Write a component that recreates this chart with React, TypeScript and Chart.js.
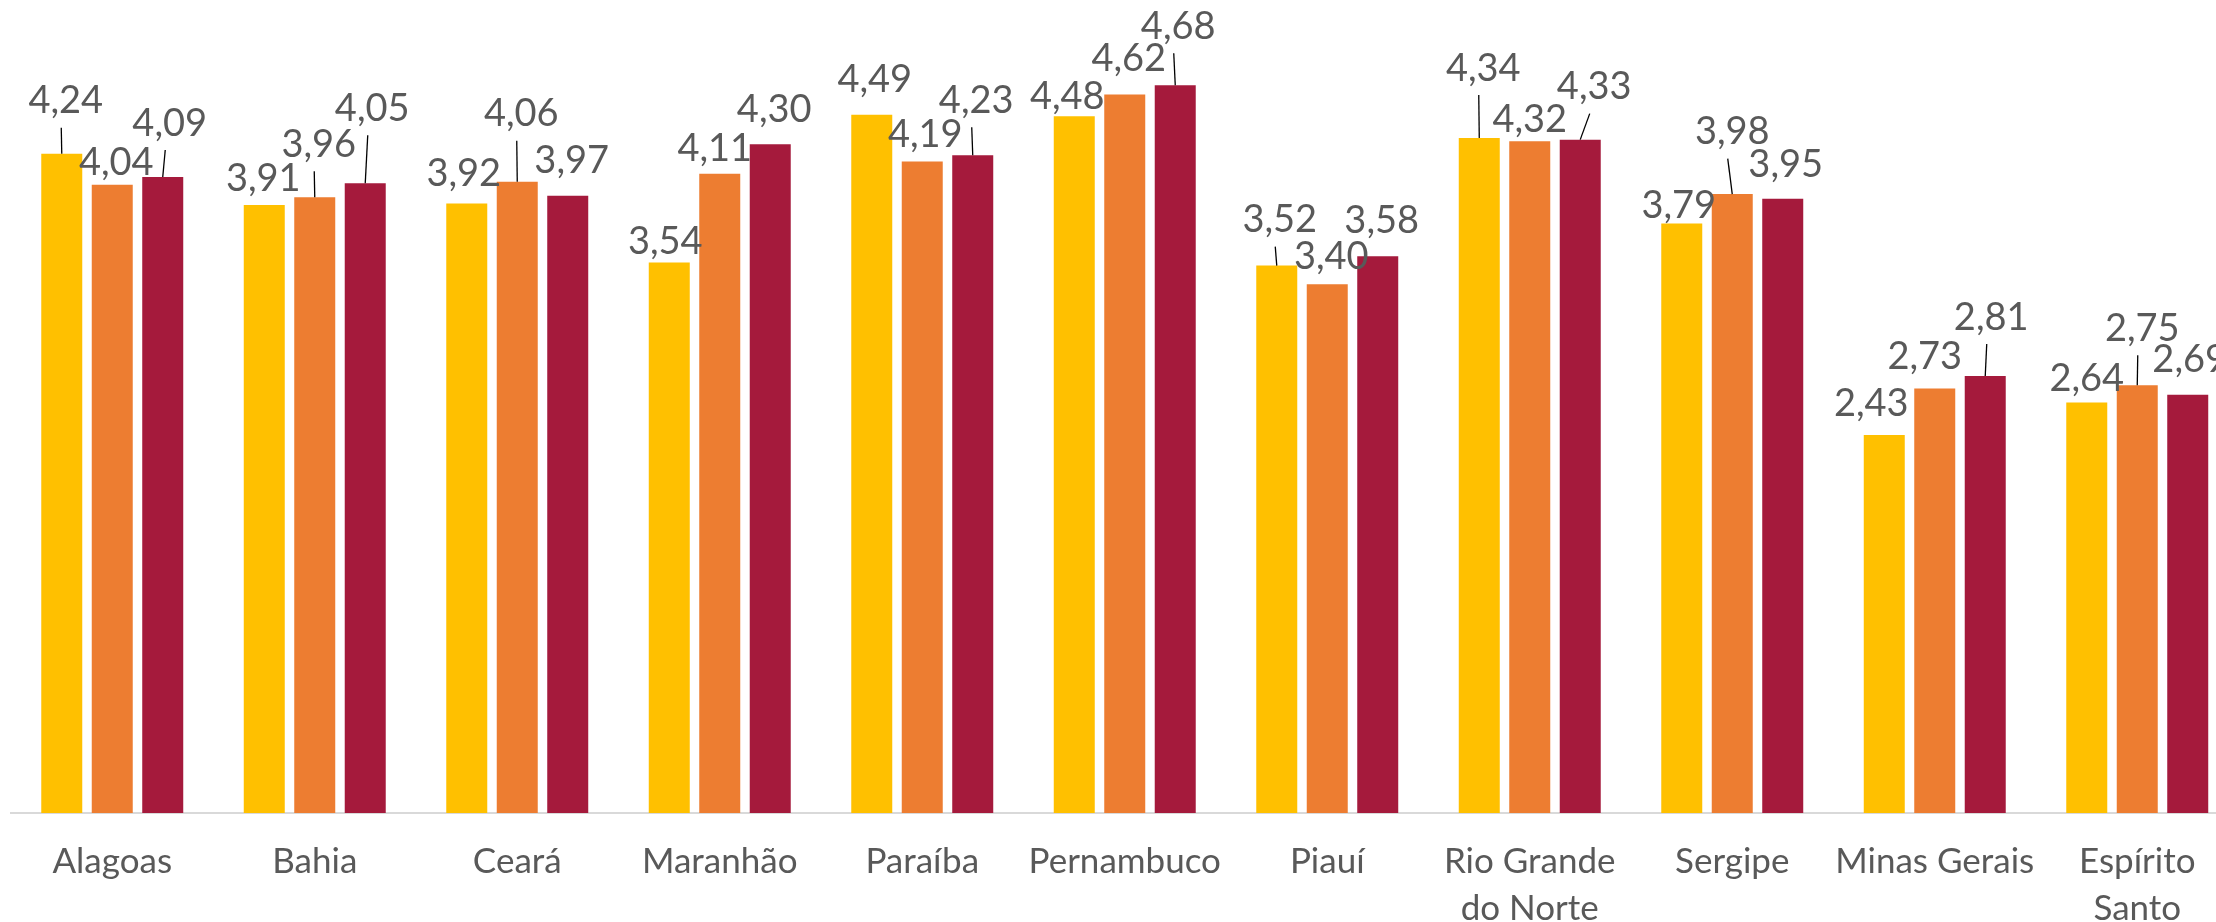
import React, { useEffect, useRef } from "react";
import { Chart, registerables } from "chart.js";

Chart.register(...registerables);

// ---- data ----
const categories: (string | string[])[] = [
  "Alagoas",
  "Bahia",
  "Ceará",
  "Maranhão",
  "Paraíba",
  "Pernambuco",
  "Piauí",
  ["Rio Grande", "do Norte"],
  "Sergipe",
  "Minas Gerais",
  ["Espírito", "Santo"],
];

const serie1 = [4.24, 3.91, 3.92, 3.54, 4.49, 4.48, 3.52, 4.34, 3.79, 2.43, 2.64];
const serie2 = [4.04, 3.96, 4.06, 4.11, 4.19, 4.62, 3.4, 4.32, 3.98, 2.73, 2.75];
const serie3 = [4.09, 4.05, 3.97, 4.3, 4.23, 4.68, 3.58, 4.33, 3.95, 2.81, 2.69];

// label placement (dx, dy in px, relative to the top centre of each bar), as moved in the original
const labelShift1 = [[4, -54], [-1, -28], [-3, -31], [-4, -22.5], [3, -36], [-7, -20.5], [3, -47], [4, -71], [-3, -19], [-13, -32.5], [0, -25.5]];
const labelShift2 = [[4, -23], [4, -54], [4, -69], [-5, -26], [3, -28.5], [4, -37.5], [4, -29], [0, -23], [0, -63.5], [-10, -33.5], [5, -58]];
const labelShift3 = [[7, -55], [7, -76], [4, -36], [4, -36], [3.5, -56], [3, -60], [4, -37], [14, -54], [3, -35.5], [6, -60], [2, -36]];

const colors = ["#FFC000", "#ED7D31", "#A51A3C"];
const seriesNames = ["Série 1", "Série 2", "Série 3"];

const fmt = (v: number) => v.toFixed(2).replace(".", ",");

const labelPlugin = {
  id: "barLabels",
  afterDatasetsDraw(chart: any) {
    const ctx = chart.ctx;
    const shifts = [labelShift1, labelShift2, labelShift3];
    ctx.save();
    chart.data.datasets.forEach((ds: any, i: number) => {
      const meta = chart.getDatasetMeta(i);
      meta.data.forEach((el: any, j: number) => {
        const [dx, dy] = shifts[i][j];
        const cx = el.x + dx;
        const cy = el.y + dy;
        const boxBottom = cy + 28;
        if (el.y - boxBottom > 12) {
          ctx.beginPath();
          ctx.strokeStyle = "#000000";
          ctx.lineWidth = 1.3;
          ctx.moveTo(cx - 4.5, boxBottom);
          ctx.lineTo(el.x, el.y);
          ctx.stroke();
        }
        ctx.fillStyle = "#595959";
        ctx.font = "38px Lato";
        ctx.textAlign = "center";
        ctx.textBaseline = "alphabetic";
        ctx.fillText(fmt(ds.data[j]), cx, cy + 13.6);
      });
    });
    ctx.restore();
  },
};

export default function App() {
  const ref = useRef<HTMLCanvasElement | null>(null);

  useEffect(() => {
    if (!ref.current) return;
    const chart = new Chart(ref.current, {
      type: "bar",
      data: {
        labels: categories as any,
        datasets: [serie1, serie2, serie3].map((d, i) => ({
          label: seriesNames[i],
          data: d,
          backgroundColor: colors[i],
          borderWidth: 0,
          categoryPercentage: 0.748,
          barPercentage: 0.812,
        })),
      },
      options: {
        animation: false,
        responsive: true,
        maintainAspectRatio: false,
        layout: { padding: { left: 11, right: 11.5, top: 0, bottom: 0 } },
        plugins: {
          legend: { display: false },
          tooltip: { enabled: false },
          title: { display: false },
        },
        scales: {
          x: {
            grid: { display: false, drawTicks: false },
            border: { display: true, color: "#D9D9D9", width: 2 },
            ticks: {
              color: "#595959",
              font: { family: "Lato", size: 35, lineHeight: 1.343 },
              padding: 25,
              maxRotation: 0,
              autoSkip: false,
            },
            afterFit: (axis: any) => {
              axis.height = 109;
            },
          },
          y: {
            display: false,
            min: 0,
            max: 5.228,
          },
        },
      },
      plugins: [labelPlugin],
    });
    return () => chart.destroy();
  }, []);

  return (
    <div
      style={{
        position: "fixed",
        left: 0,
        top: 0,
        width: "100vw",
        height: "100vh",
        overflow: "hidden",
        background: "#ffffff",
      }}
    >
      <div style={{ position: "relative", width: 2250, height: 922 }}>
        <canvas ref={ref} />
      </div>
    </div>
  );
}
